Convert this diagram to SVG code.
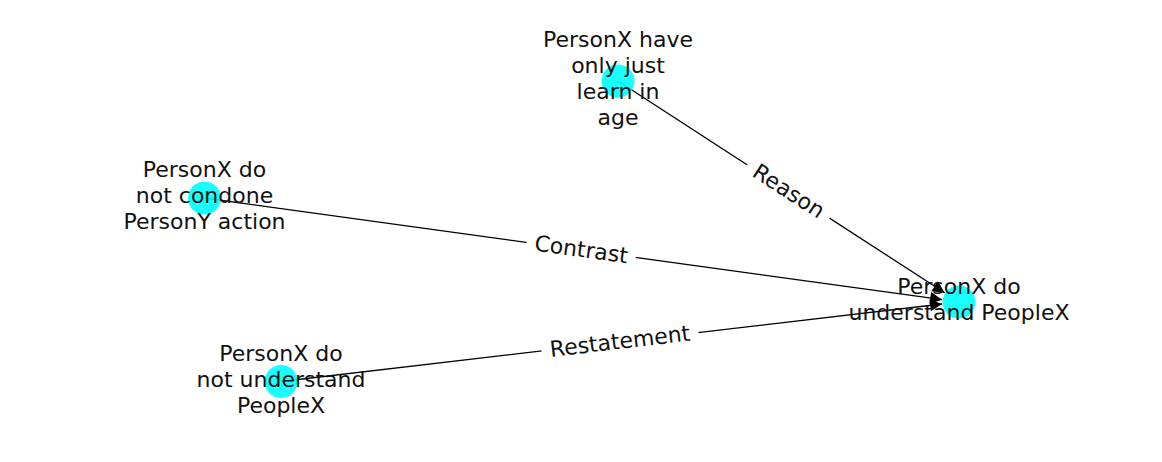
<svg xmlns="http://www.w3.org/2000/svg" width="1162" height="462" viewBox="0 0 1162 462">
<style>
.edge{stroke:#000;stroke-width:1.3;fill:none}
.node{fill:#00ffff;fill-opacity:0.9}
.t{font-family:"DejaVu Sans",sans-serif;font-size:22px;fill:#111;text-anchor:middle}
.bg{fill:#fff}
</style>
<defs>
<marker id="arr" markerUnits="userSpaceOnUse" markerWidth="16" markerHeight="16" viewBox="-14 -8 16 16" refX="0" refY="0" orient="auto">
<path d="M0,0 L-12,-6 L-12,6 Z" fill="#000"/>
</marker>
</defs>
<rect width="1162" height="462" fill="#fff"/>
<g id="connectors">
<line class="edge" x1="618" y1="81" x2="944.7" y2="292.8" marker-end="url(#arr)"/>
<line class="edge" x1="204.5" y1="198" x2="942.2" y2="299.7" marker-end="url(#arr)"/>
<line class="edge" x1="281" y1="381.5" x2="942.1" y2="304" marker-end="url(#arr)"/>
<g transform="translate(788.5,191.5) rotate(32.95)"><rect class="bg" x="-49" y="-15" width="98" height="30" rx="4"/><text class="t" x="0" y="7">Reason</text></g>
<g transform="translate(581.25,250) rotate(7.85)"><rect class="bg" x="-55" y="-15" width="110" height="30" rx="4"/><text class="t" x="0" y="7">Contrast</text></g>
<g transform="translate(620,341.75) rotate(-6.69)"><rect class="bg" x="-79" y="-15" width="158" height="30" rx="4"/><text class="t" x="0" y="7">Restatement</text></g>
</g>
<g id="n_target"><circle class="node" cx="959" cy="302" r="16.5"/><text class="t" x="959" y="294">PersonX do</text><text class="t" x="959" y="320">understand PeopleX</text></g>
<g id="n_reason"><circle class="node" cx="618" cy="81" r="16.5"/><text class="t" x="618" y="47">PersonX have</text><text class="t" x="618" y="73">only just</text><text class="t" x="618" y="99">learn in</text><text class="t" x="618" y="125">age</text></g>
<g id="n_contrast"><circle class="node" cx="204.5" cy="198" r="16.5"/><text class="t" x="204.5" y="177">PersonX do</text><text class="t" x="204.5" y="203">not condone</text><text class="t" x="204.5" y="229">PersonY action</text></g>
<g id="n_restatement"><circle class="node" cx="281" cy="381.5" r="16.5"/><text class="t" x="281" y="360.5">PersonX do</text><text class="t" x="281" y="386.5">not understand</text><text class="t" x="281" y="412.5">PeopleX</text></g>
</svg>
